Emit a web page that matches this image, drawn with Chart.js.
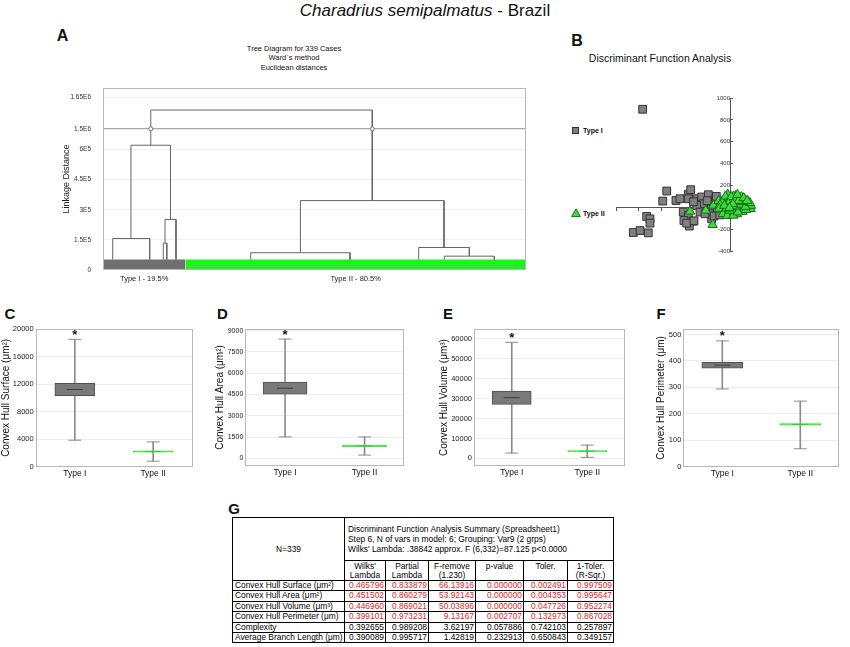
<!DOCTYPE html>
<html><head><meta charset="utf-8">
<script src="https://cdn.jsdelivr.net/npm/chart.js@4.4.1/dist/chart.umd.min.js"></script>
<style>
html,body{margin:0;padding:0;background:#fff;}
body{width:850px;height:647px;position:relative;overflow:hidden;font-family:"Liberation Sans",Arial,sans-serif;color:#111;}
canvas{position:absolute;}
.letter{position:absolute;font-weight:bold;line-height:1;transform:translate(-50%,-50%);color:#111;}
.txt{position:absolute;white-space:nowrap;}
#tbl{position:absolute;left:232px;top:517px;border-collapse:collapse;font-size:8.4px;table-layout:fixed;width:381px;color:#000;}
#tbl td{border:1px solid #000;padding:0 2px;white-space:nowrap;overflow:hidden;}
#tbl .num{text-align:right;line-height:9.4px;padding:0 1px 0 0;}
#tbl .lab{text-align:left;line-height:9.4px;}
#tbl .hd{text-align:center;line-height:9px;height:19px;vertical-align:middle;}
#tbl .ttl{line-height:10px;height:42px;vertical-align:middle;padding-left:3px;}
#tbl .n{text-align:center;vertical-align:middle;}
#tbl .red{color:#e31e24;}
</style></head>
<body>
<div class="txt" id="mainTitle" style="left:0;width:850px;top:0;text-align:center;font-size:17px;line-height:21px;"></div>

<div class="letter" style="left:62.5px;top:36px;font-size:16px;">A</div>
<div class="letter" style="left:577px;top:41px;font-size:16px;">B</div>
<div class="letter" style="left:10px;top:313px;font-size:15px;">C</div>
<div class="letter" style="left:222.5px;top:313px;font-size:15px;">D</div>
<div class="letter" style="left:448px;top:313px;font-size:15px;">E</div>
<div class="letter" style="left:661px;top:313px;font-size:15px;">F</div>
<div class="letter" style="left:234px;top:508px;font-size:15px;">G</div>

<div class="txt" id="titleA" style="left:194px;width:200px;top:43.5px;text-align:center;font-size:7.5px;line-height:9.7px;"></div>
<div class="txt" id="titleB" style="left:560px;width:200px;top:52px;text-align:center;font-size:10.5px;line-height:12px;"></div>

<div style="position:absolute;left:572px;top:126.7px;width:7px;height:7px;background:#808080;border:1px solid #333;box-sizing:border-box;"></div>
<div class="txt" id="legB1" style="left:583px;top:126px;font-size:7px;font-weight:bold;line-height:9px;"></div>
<svg style="position:absolute;left:571px;top:208px;" width="10" height="10"><polygon points="5,0.8 9.4,8.6 0.6,8.6" fill="#3cdc3c" stroke="#1b6e1b" stroke-width="1"/></svg>
<div class="txt" id="legB2" style="left:583px;top:208.5px;font-size:7px;font-weight:bold;line-height:9px;"></div>

<canvas id="cA" width="500" height="220" style="left:40px;top:72px;"></canvas>
<canvas id="cB" width="290" height="200" style="left:560px;top:70px;"></canvas>
<canvas id="cC" width="205" height="165" style="left:0px;top:320px;"></canvas>
<canvas id="cD" width="205" height="165" style="left:212px;top:320px;"></canvas>
<canvas id="cE" width="210" height="165" style="left:424px;top:320px;"></canvas>
<canvas id="cF" width="210" height="165" style="left:640px;top:320px;"></canvas>

<table id="tbl"></table>

<script>
// ---------------- DATA ----------------
const speciesName = 'Charadrius semipalmatus';
const regionName = ' - Brazil';

// Panel A: dendrogram (Ward's method)
const dendroTitle = ['Tree Diagram for 339 Cases', 'Ward`s method', 'Euclidean distances'];
const dendroYTitle = 'Linkage Distance';
const dendroCases = 339;
const typeICases = 66;
const leafHeight = 52000;
const dendroTicks = [0, 150000, 300000, 450000, 600000, 1500000, 1650000];
const dendroTickLabels = ['0', '1.5E5', '3E5', '4.5E5', '6E5', '1.5E6', '1.65E6'];
const breakValue = 1500000;
const mergeLeftX   = [7.8,   48.3,  49.7,   22.4,   118.4, 273.5, 253,   158.2,  38.3];
const mergeRightX  = [37.4,  51.1,  58.5,   54.1,   198,   313.6, 293.6, 273.3,  215.8];
const mergeHeight  = [157000,134000,252000, 790000, 86000, 69000, 112000,346000, 1590000];
const mergeLeftFrom  = [52000,52000,134000, 157000, 52000, 52000, 52000, 86000,  790000];
const mergeRightFrom = [52000,52000,52000,  252000, 52000, 52000, 69000, 112000, 346000];
const clusterLabels = ['Type I - 19.5%', 'Type II - 80.5%'];

// Panel B: discriminant function scores
const dfaTitle = 'Discriminant Function Analysis';
const dfaXTicks = [-1000, -800, -600, -400, -200, 0, 200];
const dfaYTicks = [-400, -200, 0, 200, 400, 600, 800, 1000];
const typeIScores = [
 [-766,897],[-555,149],[-590,57],[-731,-84],[-702,-106],[-702,-145],[-848,-231],[-789,-213],[-717,-234],
 [-474,62],[-439,78],[-366,117],[-345,161],[-366,78],[-292,78],[-248,94],[-190,115],[-234,32],[-292,17],[-161,32],
 [-410,-44],[-366,-75],[-404,-121],[-322,-127],[-357,-172],[-263,-44],[-175,-44],[-161,-106],[-219,-60],
 [-380,-145],[-316,-124],[-146,12],[-130,70],[-110,-30],[-100,40],[-140,-80],[-320,50],[-200,60],[-120,100],[-90,-70]
];
const typeIIScores = [
 [-351,-38],[-213,-29],[-152,-160],[-146,17],[-100,60],
 [-20,117],[-35,85],[-10,62],[-55,40],[-60,0],[-80,-20],[-45,-45],[-20,10],[0,32],[10,-20],[20,60],[30,-50],[40,20],
 [59,80],[50,105],[70,40],[80,0],[90,-30],[100,62],[110,20],[125,42],[120,-10],[140,30],[150,0],[161,26],[170,-5],
 [181,-14],[185,15],[60,-20],[20,-62],[0,-55],[-70,55],[-88,22],[-95,-12],[-62,-60],[40,-30],[82,82],[100,95],
 [130,70],[90,50],[30,100],[-40,100],[10,95],[60,-62],[110,-40],[140,-22],[160,52],[-25,-78],[29,-75],[-5,-30],
 [70,-45],[45,55],[-15,35],[-30,-10],[15,5],[55,10],[95,25],[135,5],[175,40],[115,50],[75,60],[-50,15],[25,30],
 [-5,-5],[65,115],[120,85],[150,60]
];
const groupNames = ['Type I', 'Type II'];

// Panels C-F: box plots
const catLabels = ['Type I', 'Type II'];
const significant = [true, false];
const surfTitle = 'Convex Hull Surface (\u03bcm\u00b2)';
const surfTicks = [0, 4000, 8000, 12000, 16000, 20000];
const surfMin = [3850, 800], surfQ1 = [10300, 2100], surfMed = [11200, 2200], surfQ3 = [12100, 2300], surfMax = [18500, 3600];
const areaTitle = 'Convex Hull Area (\u03bcm\u00b2)';
const areaTicks = [0, 1500, 3000, 4500, 6000, 7500, 9000];
const areaMin = [1510, 230], areaQ1 = [4530, 830], areaMed = [4950, 870], areaQ3 = [5370, 910], areaMax = [8410, 1510];
const volTitle = 'Convex Hull Volume (\u03bcm\u00b3)';
const volTicks = [0, 10000, 20000, 30000, 40000, 50000, 60000];
const volMin = [2650, 500], volQ1 = [27150, 3350], volMed = [30500, 3650], volQ3 = [33800, 3950], volMax = [58300, 6650];
const perTitle = 'Convex Hull Perimeter (\u03bcm)';
const perTicks = [0, 100, 200, 300, 400, 500];
const perMin = [294, 68], perQ1 = [373, 157], perMed = [384, 160], perQ3 = [395, 163], perMax = [476, 248];

// Panel G: table
const tableN = 'N=339';
const tableTitle = ['Discriminant Function Analysis Summary (Spreadsheet1)',
  'Step 6, N of vars in model: 6; Grouping: Var9 (2 grps)',
  "Wilks' Lambda: .38842 approx. F (6,332)=87.125 p<0.0000"];
const tableCols = [["Wilks'", 'Lambda'], ['Partial', 'Lambda'], ['F-remove', '(1.230)'], ['p-value', ''], ['Toler.', ''], ['1-Toler.', '(R-Sqr.)']];
const tableRows = ['Convex Hull Surface (\u03bcm\u00b2)', 'Convex Hull Area (\u03bcm\u00b2)', 'Convex Hull Volume (\u03bcm\u00b3)',
  'Convex Hull Perimeter (\u03bcm)', 'Complexity', 'Average Branch Length (\u03bcm)'];
const tableVals = [
  ['0.465796', '0.833879', '66.13916', '0.000000', '0.002491', '0.997509'],
  ['0.451502', '0.860279', '53.92143', '0.000000', '0.004353', '0.995647'],
  ['0.446960', '0.869021', '50.03896', '0.000000', '0.047726', '0.952274'],
  ['0.399101', '0.973231', '9.13167', '0.002707', '0.132973', '0.867028'],
  ['0.392655', '0.989208', '3.62197', '0.057886', '0.742103', '0.257897'],
  ['0.390089', '0.995717', '1.42819', '0.232913', '0.650843', '0.349157']];
const rowSignificant = [true, true, true, true, false, false];

// ---------------- RENDER ----------------
Chart.defaults.font.family = "'Liberation Sans', Arial, sans-serif";
Chart.defaults.color = '#222';

document.getElementById('mainTitle').innerHTML = '<i>' + speciesName + '</i>' + regionName;
document.getElementById('titleA').innerHTML = dendroTitle.join('<br>');
document.getElementById('titleB').textContent = dfaTitle;
document.getElementById('legB1').textContent = groupNames[0];
document.getElementById('legB2').textContent = groupNames[1];

const plain = v => String(v);

const framePlugin = {
  id: 'frame',
  afterDraw(chart, args, opts) {
    if (!opts || !opts.color) return;
    const a = chart.chartArea, c = chart.ctx;
    c.save(); c.strokeStyle = opts.color; c.lineWidth = 1;
    c.strokeRect(Math.round(a.left) + 0.5, Math.round(a.top) + 0.5, Math.round(a.right - a.left) - 1, Math.round(a.bottom - a.top) - 1);
    c.restore();
  }
};
const starPlugin = {
  id: 'stars',
  afterDatasetsDraw(chart, args, opts) {
    if (!opts || !opts.flags) return;
    const xs = chart.scales.x, ys = chart.scales.y, c = chart.ctx;
    c.save(); c.fillStyle = '#111'; c.font = "bold 13px 'Liberation Sans', Arial"; c.textAlign = 'center'; c.textBaseline = 'middle';
    opts.flags.forEach((f, i) => { if (f) c.fillText('*', xs.getPixelForValue(i), ys.getPixelForValue(opts.max[i]) - 4); });
    c.restore();
  }
};

// Panel A
function dendroAxis(v) { // broken axis: 0..6E5 linear, compressed gap, then 1.5E6..
  if (v <= 600000) return v / 150000;
  if (v <= 1500000) return 4 + (v - 600000) / 900000 * 0.69;
  return 4.69 + (v - 1500000) / 150000 * 1.04;
}
(function () {
  const cv = {l: 40, t: 72, w: 500, h: 220}, area = {l: 103, t: 77, r: 526, b: 270}, titleLeft = 61.3;
  const ds = [];
  ds.push({type: 'line', data: [{x: 0, y: dendroAxis(leafHeight)}, {x: typeICases, y: dendroAxis(leafHeight)}],
    fill: 'origin', backgroundColor: '#707070', borderWidth: 0, pointRadius: 0, order: 5});
  ds.push({type: 'line', data: [{x: typeICases, y: dendroAxis(leafHeight)}, {x: dendroCases, y: dendroAxis(leafHeight)}],
    fill: 'origin', backgroundColor: '#1ff01f', borderWidth: 0, pointRadius: 0, order: 5});
  for (let i = 0; i < mergeHeight.length; i++) {
    ds.push({type: 'line', data: [
      {x: mergeLeftX[i], y: dendroAxis(mergeLeftFrom[i])}, {x: mergeLeftX[i], y: dendroAxis(mergeHeight[i])},
      {x: mergeRightX[i], y: dendroAxis(mergeHeight[i])}, {x: mergeRightX[i], y: dendroAxis(mergeRightFrom[i])}],
      borderColor: '#666', borderWidth: 1, pointRadius: 0, fill: false, tension: 0, order: 2});
  }
  const top = mergeHeight.length - 1;
  ds.push({type: 'scatter', data: [{x: mergeLeftX[top], y: dendroAxis(breakValue)}, {x: mergeRightX[top], y: dendroAxis(breakValue)}],
    pointRadius: 2, pointBackgroundColor: '#fff', pointBorderColor: '#777', pointBorderWidth: 1, order: 0});
  const centers = [typeICases / 2, (typeICases + dendroCases) / 2];
  new Chart(document.getElementById('cA'), {
    type: 'scatter', data: {datasets: ds}, plugins: [framePlugin],
    options: {
      responsive: false, animation: false, events: [],
      layout: {padding: {left: titleLeft - cv.l, top: area.t - cv.t, right: cv.l + cv.w - area.r, bottom: 0}},
      plugins: {legend: {display: false}, tooltip: {enabled: false}, frame: {color: '#b8b8b8'}},
      scales: {
        x: {type: 'linear', min: 0, max: dendroCases, grid: {display: false, drawTicks: false}, border: {display: false},
          afterBuildTicks(s) { s.ticks = centers.map(v => ({value: v})); },
          ticks: {font: {size: 7.5}, color: '#222', padding: 4, maxRotation: 0, autoSkip: false, callback: (v, i) => clusterLabels[i]},
          afterFit(s) { s.height = cv.t + cv.h - area.b; }},
        y: {type: 'linear', min: 0, max: 6.05, border: {display: false},
          afterBuildTicks(s) { s.ticks = dendroTicks.map(v => ({value: dendroAxis(v)})); },
          ticks: {font: {size: 6.5}, color: '#333', padding: 12, autoSkip: false, callback: (v, i) => dendroTickLabels[i]},
          grid: {drawTicks: false, color: ctx => (ctx.tick && Math.abs(ctx.tick.value - dendroAxis(breakValue)) < 1e-6) ? '#a8a8a8' : (ctx.index === 0 ? 'rgba(0,0,0,0)' : '#efefef'),
            lineWidth: ctx => (ctx.tick && Math.abs(ctx.tick.value - dendroAxis(breakValue)) < 1e-6) ? 1.3 : 1},
          title: {display: true, text: dendroYTitle, font: {size: 9}, color: '#222', padding: 0},
          afterFit(s) { s.width = area.l - titleLeft; }}
      }
    }
  });
})();

// Panel B
(function () {
  new Chart(document.getElementById('cB'), {
    type: 'scatter',
    data: {datasets: [
      {data: typeIIScores.map(p => ({x: p[0], y: p[1]})), pointStyle: 'triangle', pointRadius: 5.4,
        backgroundColor: '#3cdc3c', borderColor: '#1b6e1b', borderWidth: 1, order: 0, clip: false},
      {data: typeIScores.map(p => ({x: p[0], y: p[1]})), pointStyle: 'rect', pointRadius: 5.5,
        backgroundColor: '#808080', borderColor: '#333', borderWidth: 1, order: 1, clip: false}
    ]},
    options: {
      responsive: false, animation: false, events: [],
      layout: {padding: {left: 56, top: 28, right: 97.2, bottom: 19}},
      plugins: {legend: {display: false}, tooltip: {enabled: false}},
      scales: {
        x: {type: 'linear', min: -1000, max: 200, position: {y: 0},
          afterBuildTicks(s) { s.ticks = dfaXTicks.map(v => ({value: v})); },
          ticks: {display: false},
          grid: {drawOnChartArea: false, drawTicks: true, tickLength: 3, color: '#555'},
          border: {display: true, color: '#555'}, afterFit(s) { s.height = 0; }},
        y: {type: 'linear', min: -400, max: 1000, position: {x: 0},
          afterBuildTicks(s) { s.ticks = dfaYTicks.map(v => ({value: v})); },
          ticks: {font: {size: 6}, color: '#333', autoSkip: false, callback: plain},
          grid: {drawOnChartArea: false, drawTicks: true, tickLength: -3, color: '#555'},
          border: {display: true, color: '#555'}, afterFit(s) { s.width = 0; }}
      }
    }
  });
})();

// Panels C-F
function boxChart(id, cv, area, titleLeft, axisTitle, tickVals, yMin, yMax, mn, q1, med, q3, mx, boxW, tickSize) {
  new Chart(document.getElementById(id), {
    type: 'bar',
    data: {labels: catLabels, datasets: [
      {type: 'line', data: mx, showLine: false, pointStyle: 'line', pointRadius: 6.5, pointBorderColor: '#8c8c8c', pointBorderWidth: 1, order: 0},
      {type: 'line', data: mn, showLine: false, pointStyle: 'line', pointRadius: 6.5, pointBorderColor: '#8c8c8c', pointBorderWidth: 1, order: 0},
      {type: 'line', data: med, showLine: false, pointStyle: 'line', pointRadius: [8, 8], pointBorderColor: ['#3c3c3c', '#22d422'], pointBorderWidth: 1, order: 0},
      {type: 'bar', data: q1.map((v, i) => [v, q3[i]]), backgroundColor: ['#7a7a7a', '#22ea22'], borderColor: ['#4f4f4f', '#22ea22'],
        borderWidth: 1, borderSkipped: false, barThickness: boxW, grouped: false, order: 1},
      {type: 'bar', data: mn.map((v, i) => [v, mx[i]]), backgroundColor: '#8c8c8c', barThickness: 1, grouped: false, order: 2}
    ]},
    plugins: [framePlugin, starPlugin],
    options: {
      responsive: false, animation: false, events: [],
      layout: {padding: {left: titleLeft - cv.l, top: area.t - cv.t, right: cv.l + cv.w - area.r, bottom: 0}},
      plugins: {legend: {display: false}, tooltip: {enabled: false}, frame: {color: '#b8b8b8'}, stars: {flags: significant, max: mx}},
      scales: {
        x: {grid: {display: false, drawTicks: false}, border: {display: false}, ticks: {font: {size: 8.5}, color: '#111', padding: 1.5},
          afterFit(s) { s.height = cv.t + cv.h - area.b; }},
        y: {min: yMin, max: yMax, border: {display: false},
          afterBuildTicks(s) { s.ticks = tickVals.map(v => ({value: v})); },
          ticks: {font: {size: tickSize}, color: '#222', padding: 2, autoSkip: false, callback: plain},
          grid: {color: '#ececec', drawTicks: false},
          title: {display: true, text: axisTitle, font: {size: 10}, color: '#111', padding: 0},
          afterFit(s) { s.width = area.l - titleLeft; }}
      }
    }
  });
}
boxChart('cC', {l: 0, t: 320, w: 205, h: 165}, {l: 35.7, t: 328.3, r: 192.3, b: 466.7}, 0, surfTitle, surfTicks, 0, 20000,
  surfMin, surfQ1, surfMed, surfQ3, surfMax, 40, 7.5);
boxChart('cD', {l: 212, t: 320, w: 205, h: 165}, {l: 245.3, t: 328.3, r: 404.3, b: 466}, 214, areaTitle, areaTicks, -540, 9120,
  areaMin, areaQ1, areaMed, areaQ3, areaMax, 44, 7);
boxChart('cE', {l: 424, t: 320, w: 210, h: 165}, {l: 474, t: 328.3, r: 630.7, b: 466}, 438, volTitle, volTicks, -3850, 65000,
  volMin, volQ1, volMed, volQ3, volMax, 39, 7.5);
boxChart('cF', {l: 640, t: 320, w: 210, h: 165}, {l: 683.3, t: 328.3, r: 839.3, b: 466.7}, 655, perTitle, perTicks, 0, 521,
  perMin, perQ1, perMed, perQ3, perMax, 41, 7.5);

// Panel G table
(function () {
  const t = document.getElementById('tbl');
  const widths = [112, 41, 43, 47, 48, 44, 46];
  let h = '<colgroup>' + widths.map(w => '<col style="width:' + w + 'px">').join('') + '</colgroup>';
  h += '<tr><td rowspan="2" class="n">' + tableN + '</td><td colspan="6" class="ttl">' +
    tableTitle.map(s => s.replace(/</g, '&lt;')).join('<br>') + '</td></tr>';
  h += '<tr>' + tableCols.map(c => '<td class="hd">' + c[0] + '<br>' + (c[1] || '&nbsp;') + '</td>').join('') + '</tr>';
  tableRows.forEach((r, i) => {
    h += '<tr><td class="lab">' + r + '</td>' +
      tableVals[i].map(v => '<td class="num' + (rowSignificant[i] ? ' red' : '') + '">' + v + '</td>').join('') + '</tr>';
  });
  t.innerHTML = h;
})();
</script>
</body></html>
